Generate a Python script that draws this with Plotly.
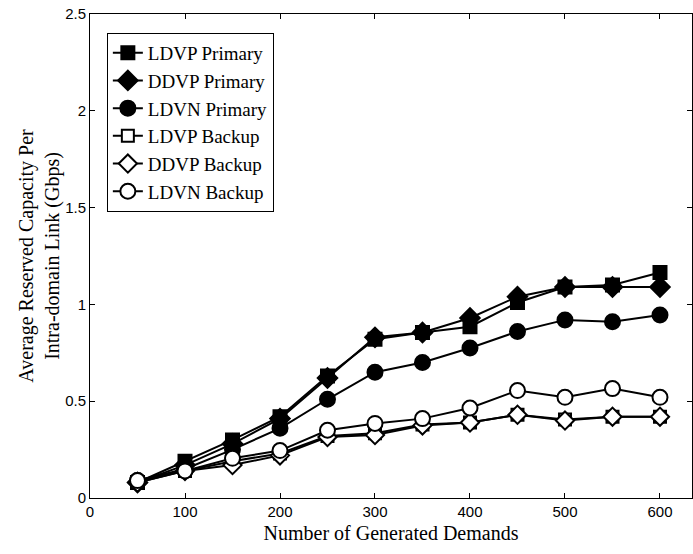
import plotly.graph_objects as go

demands = [50, 100, 150, 200, 250, 300, 350, 400, 450, 500, 550, 600]
ldvp_primary = [0.08, 0.19, 0.30, 0.42, 0.63, 0.82, 0.855, 0.885, 1.01, 1.09, 1.10, 1.165]
ddvp_primary = [0.08, 0.17, 0.28, 0.41, 0.62, 0.83, 0.855, 0.93, 1.04, 1.09, 1.09, 1.09]
ldvn_primary = [0.09, 0.15, 0.25, 0.36, 0.51, 0.65, 0.70, 0.775, 0.86, 0.92, 0.91, 0.945]
ldvp_backup = [0.08, 0.14, 0.19, 0.23, 0.32, 0.335, 0.38, 0.39, 0.43, 0.405, 0.42, 0.42]
ddvp_backup = [0.08, 0.14, 0.17, 0.22, 0.315, 0.325, 0.375, 0.39, 0.43, 0.40, 0.42, 0.42]
ldvn_backup = [0.09, 0.14, 0.205, 0.245, 0.35, 0.385, 0.41, 0.465, 0.555, 0.52, 0.565, 0.52]

series = [
    ("LDVP Primary", ldvp_primary, "square", 13, "black"),
    ("DDVP Primary", ddvp_primary, "diamond", 15, "black"),
    ("LDVN Primary", ldvn_primary, "circle", 15, "black"),
    ("LDVP Backup", ldvp_backup, "square", 12, "white"),
    ("DDVP Backup", ddvp_backup, "diamond", 14, "white"),
    ("LDVN Backup", ldvn_backup, "circle", 15, "white"),
]

fig = go.Figure()
for name, vals, sym, size, fill in series:
    fig.add_trace(go.Scatter(
        x=demands, y=vals, name=name, mode="lines+markers",
        line=dict(color="black", width=2),
        marker=dict(symbol=sym, size=size, color=fill,
                    line=dict(color="black", width=2)),
    ))

serif = "Liberation Serif, Times New Roman, serif"
sans = "Liberation Sans, Arial, sans-serif"

fig.update_layout(
    width=693, height=554,
    margin=dict(l=90, r=1, t=14, b=56),
    paper_bgcolor="white", plot_bgcolor="white",
    showlegend=True,
    legend=dict(
        x=0.028, y=0.961, xanchor="left", yanchor="top",
        bgcolor="white", bordercolor="black", borderwidth=1,
        font=dict(family=serif, size=19, color="black"),
        tracegroupgap=0,
    ),
    xaxis=dict(
        range=[0, 633.7], tickvals=[0, 100, 200, 300, 400, 500, 600],
        ticks="inside", ticklen=5, tickcolor="black",
        showline=True, linecolor="black", linewidth=1, mirror="ticks",
        showgrid=False, zeroline=False,
        tickfont=dict(family=sans, size=15, color="black"),
        title=dict(text="Number of Generated Demands",
                   font=dict(family=serif, size=20, color="black"), standoff=6),
    ),
    yaxis=dict(
        range=[0, 2.5], tickvals=[0, 0.5, 1, 1.5, 2, 2.5],
        ticktext=["0", "0.5", "1", "1.5", "2", "2.5"],
        ticks="inside", ticklen=5, tickcolor="black",
        showline=True, linecolor="black", linewidth=1, mirror="ticks",
        showgrid=False, zeroline=False,
        tickfont=dict(family=sans, size=15, color="black"),
        title=dict(text="Average Reserved Capacity Per<br>Intra-domain Link (Gbps)",
                   font=dict(family=serif, size=20, color="black"), standoff=0),
    ),
)

fig.write_html("out.html")
